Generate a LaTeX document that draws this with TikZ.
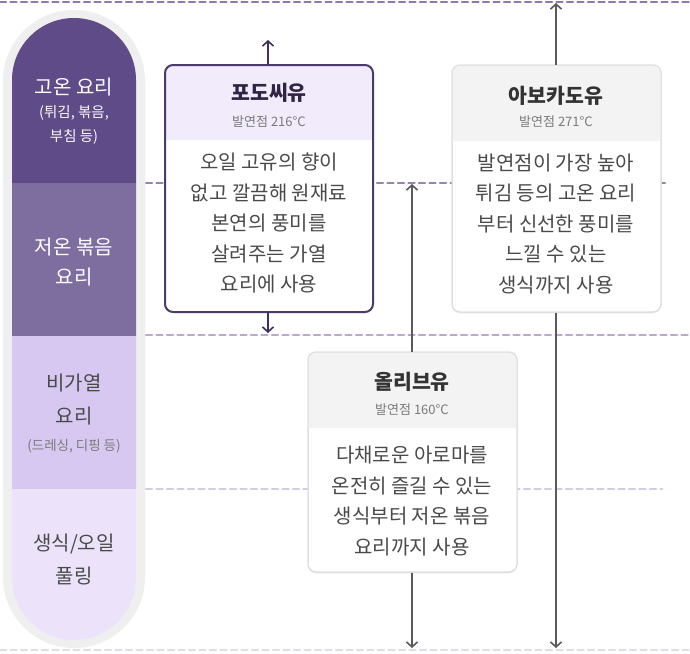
\documentclass[tikz,border=0pt]{standalone}
\usepackage{fontspec}
\newfontfamily\kr{Noto Sans CJK KR}
\usetikzlibrary{arrows.meta,shadows}
\definecolor{secA}{HTML}{5F4B87}
\definecolor{secB}{HTML}{7E6D9F}
\definecolor{secC}{HTML}{D7C8F1}
\definecolor{secD}{HTML}{ECE3FB}
\definecolor{ring}{HTML}{EFEFEF}
\definecolor{dashA}{HTML}{8C79AD}
\definecolor{dashB}{HTML}{9485B4}
\definecolor{dashC}{HTML}{B8AAD0}
\definecolor{dashD}{HTML}{D3CCE2}
\definecolor{dashE}{HTML}{E0DCE8}
\definecolor{gborder}{HTML}{4B3B6B}
\definecolor{ghead}{HTML}{F1EBFB}
\definecolor{gtitle}{HTML}{2F2444}
\definecolor{hgray}{HTML}{F3F3F3}
\definecolor{bgray}{HTML}{DDDDDD}
\definecolor{bodytxt}{HTML}{4A4A4A}
\definecolor{subtxt}{HTML}{7A7A7A}
\definecolor{garrow}{HTML}{5A5A5A}
\definecolor{parrow}{HTML}{3F3060}
\tikzset{
  dashln/.style={line width=2.5pt, dash pattern=on 6pt off 4.5pt, line cap=round},
  arrg/.style={draw=garrow, line width=1.6pt, -{Straight Barb[length=5pt,width=11pt,line width=1.6pt]}},
  arrp/.style={draw=parrow, line width=1.6pt, -{Straight Barb[length=5pt,width=11pt,line width=1.6pt]}},
  bodyt/.style={font=\kr\fontsize{20}{30.5}\selectfont, text=bodytxt, align=center, inner sep=0},
  titlet/.style={font=\kr\bfseries\fontsize{20.5}{24}\selectfont, text=#1, inner sep=0},
  subt/.style={font=\kr\fontsize{13}{15}\selectfont, text=subtxt, inner sep=0},
  pillw/.style={font=\kr\fontsize{20}{30}\selectfont, text=white, align=center, inner sep=0},
  pilld/.style={font=\kr\fontsize{20}{33}\selectfont, text=bodytxt, align=center, inner sep=0},
  pills/.style={font=\kr\fontsize{14.5}{24}\selectfont, text=#1, align=center, inner sep=0},
  boxg/.style={draw=bgray, line width=1pt, rounded corners=8pt, drop shadow={opacity=0.10, shadow xshift=0pt, shadow yshift=-1.5pt}},
}
\begin{document}
\begin{tikzpicture}[x=1pt,y=-1pt]
\useasboundingbox (0,0) rectangle (690,653);
\fill[white] (0,0) rectangle (690,653);
% dashed guide lines
\draw[dashln, draw=dashA] (0,2) -- (690,2);
\draw[dashln, draw=dashB] (146,183) -- (665,183);
\draw[dashln, draw=dashC] (146,335) -- (690,335);
\draw[dashln, draw=dashD] (146,489) -- (662,489);
\draw[dashln, draw=dashE] (0,650) -- (690,650);
% pill
\fill[ring, rounded corners=71pt] (3,10) rectangle (145,648);
\begin{scope}
  \clip[rounded corners=62pt] (12,18) rectangle (136,640);
  \fill[secA] (0,0) rectangle (150,183);
  \fill[secB] (0,183) rectangle (150,336);
  \fill[secC] (0,336) rectangle (150,489);
  \fill[secD] (0,489) rectangle (150,653);
\end{scope}
\node[pillw] (p1) at (74,87) {고온 요리};
\node[pills=white!88!secC] (p1s) at (74,125) {(튀김, 볶음,\\부침 등)};
\node[pillw] (p2) at (74,262) {저온 볶음\\요리};
\node[pilld] (p3) at (74,400) {비가열\\요리};
\node[pills=subtxt, font=\kr\fontsize{13.5}{15}\selectfont] (p3s) at (74,446) {(드레싱, 디핑 등)};
\node[pilld] (p4) at (74,559) {생식/오일\\풀링};
% boxes (shapes)
\node[boxg, fill=white, minimum width=209pt, minimum height=247pt, inner sep=0] (avo) at (556.5,188.5) {};
\node[boxg, fill=white, minimum width=209pt, minimum height=220pt, inner sep=0] (oli) at (412.5,462) {};
\node[draw=none, fill=white, rounded corners=8pt, minimum width=208pt, minimum height=247pt, inner sep=0] (grape) at (269,188.5) {};
% headers
\fill[hgray] (452,141) [rounded corners=8pt] -- (452,65) -- (661,65) [sharp corners] -- (661,141) -- cycle;
\fill[hgray] (308,428) [rounded corners=8pt] -- (308,352) -- (517,352) [sharp corners] -- (517,428) -- cycle;
\fill[ghead] (165,140) [rounded corners=8pt] -- (165,65) -- (373,65) [sharp corners] -- (373,140) -- cycle;
\draw[bgray, line width=1pt, rounded corners=8pt] (452,65) rectangle (661,312);
\draw[bgray, line width=1pt, rounded corners=8pt] (308,352) rectangle (517,572);
\draw[gborder, line width=2pt, rounded corners=8pt] (165,65) rectangle (373,312);
% arrow end points
\coordinate (gup) at (268,40);
\coordinate (gdn) at (268,333);
\coordinate (aup) at (556,3);
\coordinate (adn) at (556,648);
\coordinate (oup) at (412,184);
\coordinate (odn) at (412,648);
\draw[arrp] (grape.north -| gup) -- (gup);
\draw[arrp] (grape.south -| gdn) -- (gdn);
\draw[arrg] (avo.north -| aup) -- (aup);
\draw[arrg] (avo.south -| adn) -- (adn);
\draw[arrg] (oli.north -| oup) -- (oup);
\draw[arrg] (oli.south -| odn) -- (odn);
% texts
\node[titlet=gtitle] (gt) at (269,93) {포도씨유};
\node[subt] (gs) at (269,122) {발연점 216°C};
\node[bodyt] (gb) at (269,223) {오일 고유의 향이\\없고 깔끔해 원재료\\본연의 풍미를\\살려주는 가열\\요리에 사용};
\node[titlet=black!80] (at) at (556,96) {아보카도유};
\node[subt] (as) at (556,122) {발연점 271°C};
\node[bodyt] (ab) at (556,224) {발연점이 가장 높아\\튀김 등의 고온 요리\\부터 신선한 풍미를\\느낄 수 있는\\생식까지 사용};
\node[titlet=black!80] (ot) at (412,382) {올리브유};
\node[subt] (os) at (412,410) {발연점 160°C};
\node[bodyt] (ob) at (412,501) {다채로운 아로마를\\온전히 즐길 수 있는\\생식부터 저온 볶음\\요리까지 사용};
\end{tikzpicture}
\end{document}
